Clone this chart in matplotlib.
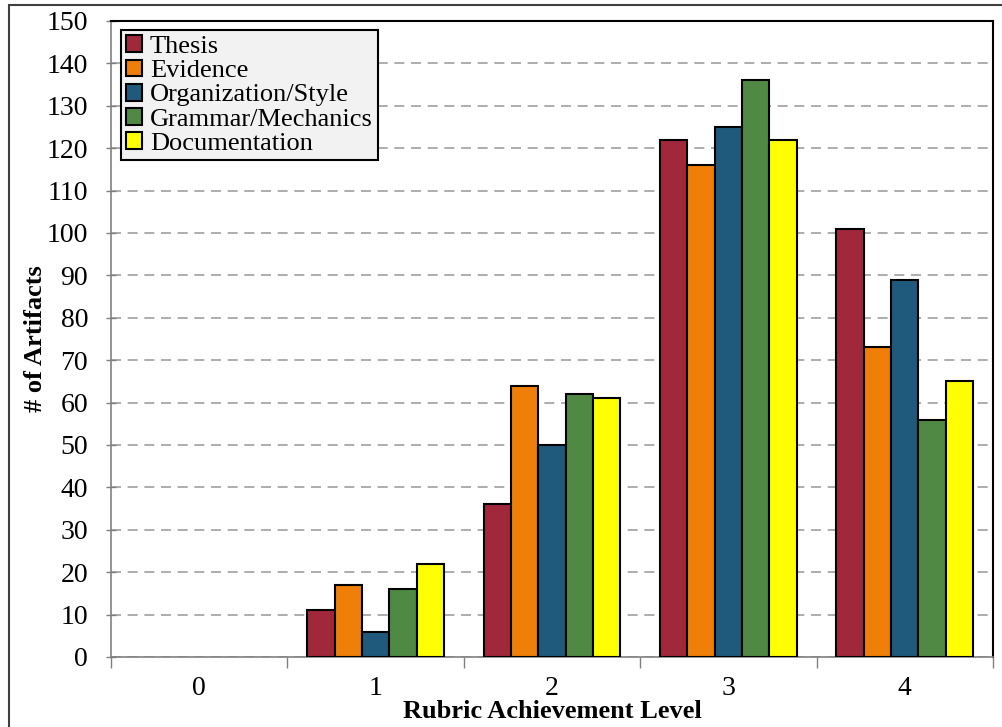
import matplotlib
matplotlib.use("Agg")
import matplotlib.pyplot as plt
import numpy as np
from matplotlib.patches import Rectangle

levels = ["0", "1", "2", "3", "4"]
series = ["Thesis", "Evidence", "Organization/Style", "Grammar/Mechanics", "Documentation"]
thesis = [0, 11, 36, 122, 101]
evidence = [0, 17, 64, 116, 73]
organization = [0, 6, 50, 125, 89]
grammar = [0, 16, 62, 136, 56]
documentation = [0, 22, 61, 122, 65]
values = [thesis, evidence, organization, grammar, documentation]
colors = ["#A0283A", "#F07F09", "#1F5A7D", "#4F8943", "#FFFF00"]
yticks = list(range(0, 151, 10))

plt.rcParams['font.family'] = ['Liberation Serif', 'DejaVu Serif']

fig = plt.figure(figsize=(10.02, 7.27), dpi=100)
ax = fig.add_axes([111/1002, 1-657/727, 882/1002, 636/727])

x = np.arange(len(levels))
n = len(series)
group = 0.775
w = group / n
for i, (name, vals, c) in enumerate(zip(series, values, colors)):
    offs = (i - (n-1)/2) * w
    lws = [1.5 if v > 0 else 0 for v in vals]
    ax.bar(x + offs, vals, width=w, color=c, edgecolor='black', linewidth=lws,
           label=name, zorder=3)

ax.set_xlim(-0.5, 4.5)
ax.set_ylim(0, 150)
ax.set_yticks(yticks)
ax.set_xticks(x)
ax.set_xticklabels(levels)
ax.set_xticks(np.arange(-0.5, 4.6, 1), minor=True)
ax.tick_params(axis='x', which='major', length=0, labelsize=20, pad=14)
ax.tick_params(axis='x', which='minor', length=8, color='#808080', width=1)
ax.tick_params(axis='y', which='major', length=7, color='#808080', width=1, labelsize=20, pad=13, direction='inout')

ax.yaxis.grid(True, linestyle=(0, (6, 4)), color='#A0A0A0', linewidth=1.2, zorder=0)
ax.set_axisbelow(True)

for s in ['left', 'bottom']:
    ax.spines[s].set_color('#808080')
    ax.spines[s].set_linewidth(1.2)
for s in ['top', 'right']:
    ax.spines[s].set_color('black')
    ax.spines[s].set_linewidth(1.5)

ax.set_ylabel("# of Artifacts", fontsize=19, fontweight='bold')
ax.yaxis.set_label_coords(-(111-47)/882, 0.5)
ax.set_xlabel("Rubric Achievement Level", fontsize=19, fontweight='bold')
ax.xaxis.set_label_coords(0.5, -(700-657)/636)

leg = ax.legend(loc='upper left', bbox_to_anchor=(10/882, (657-30)/636), borderaxespad=0,
                fontsize=19, fancybox=False, edgecolor='black', facecolor='#F2F2F2',
                framealpha=1, handlelength=0.6, handleheight=0.6, handletextpad=0.3,
                labelspacing=0.06, borderpad=0.2)
leg.get_frame().set_linewidth(1.5)
for h in leg.legend_handles:
    h.set_linewidth(1.5)

# figure border
fig.patches.append(Rectangle((9/1002, -0.1), 1.2, 1-5/727+0.1, transform=fig.transFigure,
                             fill=False, edgecolor='#404040', linewidth=1.5, zorder=10))

fig.savefig("out.png", dpi=100)
